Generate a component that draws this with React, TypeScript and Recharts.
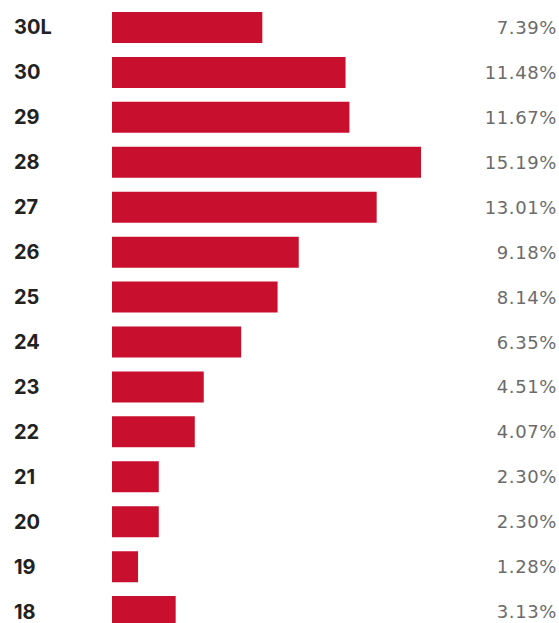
import { BarChart, Bar, XAxis, YAxis, LabelList } from 'recharts';

const categories = ['30L', '30', '29', '28', '27', '26', '25', '24', '23', '22', '21', '20', '19', '18'];
const shares = [7.39, 11.48, 11.67, 15.19, 13.01, 9.18, 8.14, 6.35, 4.51, 4.07, 2.3, 2.3, 1.28, 3.13];

const data = categories.map((name, i) => ({ name, value: shares[i] }));

const LeftTick = (props: any) => {
  const { y, payload } = props;
  return (
    <text x={14} y={y} dy={7} textAnchor="start" fill="#222" fontSize={20} fontWeight={700}
      fontFamily="Inter, 'Noto Sans', sans-serif">
      {payload.value}
    </text>
  );
};

const RightLabel = (props: any) => {
  const { y, height, value } = props;
  return (
    <text x={557} y={y + height / 2} dy={6.5} textAnchor="end" fill="#6b6b6b" fontSize={18}
      letterSpacing={0.6} fontFamily="'DejaVu Sans', sans-serif">
      {value.toFixed(2)}%
    </text>
  );
};

export default function App() {
  return (
    <div style={{ position: 'fixed', left: 0, top: 0, width: 559, height: 623, overflow: 'hidden', background: '#fff' }}>
      <BarChart
        width={559}
        height={634}
        data={data}
        layout="vertical"
        margin={{ top: 5, right: 121.5, bottom: 0, left: 0 }}
      >
        <XAxis type="number" domain={[0, 16]} hide />
        <YAxis type="category" dataKey="name" width={112} axisLine={false} tickLine={false} tick={<LeftTick />} interval={0} />
        <Bar dataKey="value" fill="#C8102E" barSize={31} isAnimationActive={false}>
          <LabelList dataKey="value" content={<RightLabel />} />
        </Bar>
      </BarChart>
    </div>
  );
}
